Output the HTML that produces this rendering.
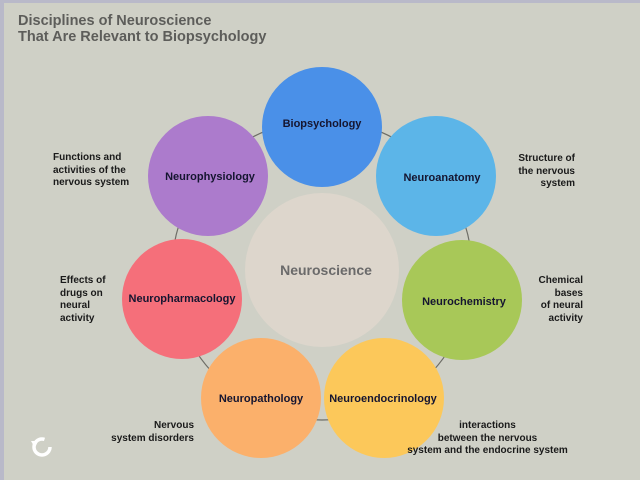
<!DOCTYPE html>
<html><head><style>
body{margin:0;width:640px;height:480px;overflow:hidden;background:#b9b9c9;font-family:"Liberation Sans",sans-serif}
#p{position:absolute;left:4px;top:3px;width:636px;height:477px;background:#cfd0c6}
.t{position:absolute;left:18px;top:13px;font-weight:bold;font-size:14.5px;line-height:16px;color:#5d5d5a}
.l{position:absolute;font-weight:bold;font-size:10px;line-height:12.5px;color:#1a1a1a}
svg{position:absolute;left:0;top:0}
</style></head><body>
<div id="p"></div>
<svg width="640" height="480">
<circle cx="322" cy="270" r="150" fill="none" stroke="#6d6d66" stroke-width="1.2"/>
<g font-family="Liberation Sans" font-weight="bold" font-size="11" text-anchor="middle" fill="#151530">
<circle cx="322" cy="127" r="60" fill="#4a90e8"/><text x="322" y="127">Biopsychology</text>
<circle cx="436" cy="176" r="60" fill="#5cb5e8"/><text x="442" y="181">Neuroanatomy</text>
<circle cx="462" cy="300" r="60" fill="#a8c858"/><text x="464" y="305">Neurochemistry</text>
<circle cx="384" cy="398" r="60" fill="#fcc85a"/><text x="383" y="402">Neuroendocrinology</text>
<circle cx="261" cy="398" r="60" fill="#fbb06b"/><text x="261" y="402">Neuropathology</text>
<circle cx="182" cy="299" r="60" fill="#f56f7a"/><text x="182" y="302">Neuropharmacology</text>
<circle cx="208" cy="176" r="60" fill="#ac7bcc"/><text x="210" y="180">Neurophysiology</text>
<circle cx="322" cy="270" r="77" fill="#ddd6cc"/>
<text x="326" y="275" font-size="14" fill="#6a6a6a">Neuroscience</text>
</g>
<circle cx="42" cy="447" r="8" fill="none" stroke="#fff" stroke-width="3.5" stroke-dasharray="40 20"/>
<path d="M31 441 l7 0 l-3 7z" fill="#fff"/>
</svg>
<div class="t">Disciplines of Neuroscience<br>That Are Relevant to Biopsychology</div>
<div class="l" style="left:53px;top:152px">Functions and<br>activities of the<br>nervous system</div>
<div class="l" style="left:500px;top:153px;text-align:right;width:75px">Structure of<br>the nervous<br>system</div>
<div class="l" style="left:60px;top:275px">Effects of<br>drugs on<br>neural<br>activity</div>
<div class="l" style="left:508px;top:275px;text-align:right;width:75px">Chemical<br>bases<br>of neural<br>activity</div>
<div class="l" style="left:100px;top:420px;text-align:right;width:94px">Nervous<br>system disorders</div>
<div class="l" style="left:400px;top:420px;width:175px;text-align:center">interactions<br>between the nervous<br>system and the endocrine system</div>
</body></html>
